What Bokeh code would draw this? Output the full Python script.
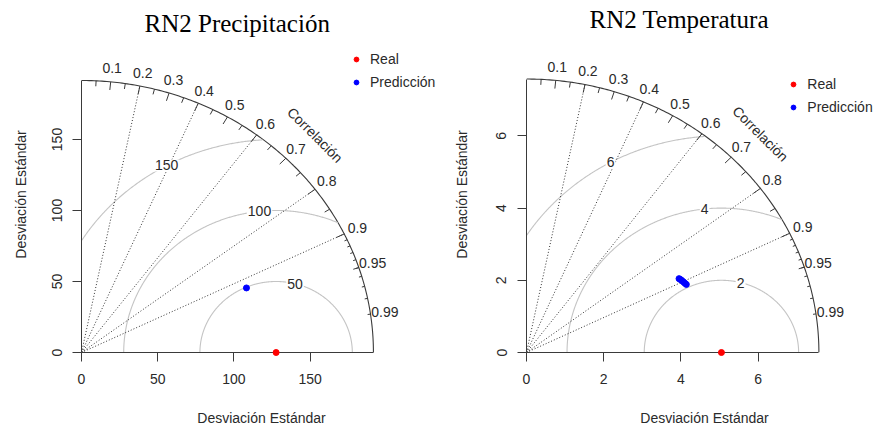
import numpy as np
from bokeh.plotting import figure
from bokeh.models import FixedTicker, Legend, LegendItem, Range1d
from bokeh.layouts import row
from bokeh.embed import file_html
from bokeh.resources import INLINE
from bokeh.core.properties import value

# ---------------- data ----------------
prec_title = "RN2 Precipitación"
prec_ref_sd = 127.7
prec_pred_sd = [117.4]
prec_pred_cor = [0.922]
prec_gamma = [50, 100, 150]
prec_ticks = [0, 50, 100, 150]

temp_title = "RN2 Temperatura"
temp_ref_sd = 5.05
temp_pred_sd = [4.45, 4.47, 4.49, 4.51, 4.53, 4.55]
temp_pred_cor = [0.888, 0.892, 0.896, 0.901, 0.906, 0.910]
temp_gamma = [2, 4, 6]
temp_ticks = [0, 2, 4, 6]

cor_labels = [0.1, 0.2, 0.3, 0.4, 0.5, 0.6, 0.7, 0.8, 0.9, 0.95, 0.99]
cor_lines = [0.2, 0.4, 0.6, 0.8, 0.9]
legend_labels = ["Real", "Predicción"]
axis_title = "Desviación Estándar"
cor_title = "Correlación"

SANS = "Liberation Sans"
DARK = "#3a3a3a"
TXT = "#2a2a2a"
GRAY = "#c4c4c4"


def taylor(title, ref_sd, sd, cor, gammas, ticks, lay):
    sd = np.asarray(sd, float)
    cor = np.asarray(cor, float)
    maxsd = 1.5 * max(ref_sd, sd.max())
    kx, ky = lay["px"]
    fl, fr, ft, fb = lay["frame"]
    W, H = lay["size"]
    p = figure(width=W, height=H, output_backend="svg", toolbar_location=None,
               x_range=Range1d(0, (fr - fl) / kx),
               y_range=Range1d(0, (fb - ft) / ky),
               min_border_left=fl, min_border_right=W - fr,
               min_border_top=ft, min_border_bottom=H - fb)
    p.outline_line_color = None
    p.grid.visible = False
    p.background_fill_color = "white"
    p.border_fill_color = "white"

    # axes
    for ax in (p.xaxis[0], p.yaxis[0]):
        ax.ticker = FixedTicker(ticks=ticks)
        ax.bounds = (0, maxsd)
        ax.axis_line_color = DARK
        ax.major_tick_line_color = DARK
        ax.major_tick_out = 9
        ax.major_tick_in = 0
        ax.minor_tick_line_color = None
        ax.major_label_text_font = SANS
        ax.major_label_text_font_size = "14px"
        ax.major_label_text_color = TXT
        ax.axis_label = axis_title
        ax.axis_label_text_font = SANS
        ax.axis_label_text_font_size = "14px"
        ax.axis_label_text_font_style = "normal"
        ax.axis_label_text_color = TXT
    p.xaxis.major_label_standoff = 12
    p.xaxis.axis_label_standoff = lay["xlab_standoff"]
    p.yaxis.major_label_orientation = "vertical"
    p.yaxis.major_label_standoff = 11
    p.yaxis.axis_label_standoff = lay["ylab_standoff"]

    # title
    p.title.text = title
    p.title.align = "left"
    p.title.offset = lay["title_offset"]
    p.title.standoff = lay["title_standoff"]
    p.title.text_font = "Liberation Serif"
    p.title.text_font_size = "25px"
    p.title.text_font_style = "normal"
    p.title.text_color = "black"

    # outer arc
    t = np.linspace(0, np.pi / 2, 181)
    p.line(maxsd * np.cos(t), maxsd * np.sin(t), line_color=DARK, line_width=1.1)

    # centred RMS arcs
    tt = np.linspace(0, np.pi, 600)
    for g in gammas:
        gx = ref_sd + g * np.cos(tt)
        gy = g * np.sin(tt)
        ok = (gx >= 0) & (gx ** 2 + gy ** 2 <= maxsd ** 2)
        gx = np.where(ok, gx, np.nan)
        gy = np.where(ok, gy, np.nan)
        p.line(gx, gy, line_color=GRAY, line_width=1.1)

    # correlation lines
    ca = np.arccos(np.array(cor_lines))
    p.segment(x0=0, y0=0, x1=maxsd * np.cos(ca), y1=maxsd * np.sin(ca),
              line_color="#333333", line_dash="1 2", line_width=1)

    # ticks on arc
    big = np.arccos(np.arange(1, 10) / 10)
    med = np.arccos(np.arange(0.05, 0.96, 0.1))
    sml = np.arccos(np.arange(91, 100) / 100)
    for ang, f in ((big, 0.97), (med, 0.98), (sml, 0.99)):
        p.segment(x0=maxsd * np.cos(ang), y0=maxsd * np.sin(ang),
                  x1=f * maxsd * np.cos(ang), y1=f * maxsd * np.sin(ang),
                  line_color=DARK, line_width=1)

    # correlation labels
    la = np.arccos(np.array(cor_labels))
    p.text(x=1.05 * maxsd * np.cos(la), y=1.05 * maxsd * np.sin(la),
           text=[f"{c:g}" for c in cor_labels],
           text_font=value(SANS), text_font_size="14px", text_color=TXT,
           text_align="center", text_baseline="middle")
    p.text(x=[0.8 * maxsd], y=[0.8 * maxsd], text=[cor_title], angle=-np.pi / 4,
           text_font=value(SANS), text_font_size="14px", text_color=TXT,
           text_align="center", text_baseline="middle")

    # RMS labels (plotrix positions: indices 45, 57, 70 on a 0.03 rad grid)
    gang = (np.array([45, 57, 70]) - 1) * 0.03
    gv = np.array(gammas, float)
    p.text(x=ref_sd + gv * np.cos(gang), y=gv * np.sin(gang),
           text=[f"{g:g}" for g in gammas],
           text_font=value(SANS), text_font_size="14px", text_color=TXT,
           text_align="center", text_baseline="middle",
           background_fill_color="white", padding=1)

    # points
    r_ref = p.scatter([ref_sd], [0], size=6, color="red", level="overlay")
    r_pred = p.scatter(sd * cor, sd * np.sqrt(1 - cor ** 2), size=6,
                       color="blue", level="overlay")

    leg = Legend(items=[LegendItem(label=legend_labels[0], renderers=[r_ref]),
                        LegendItem(label=legend_labels[1], renderers=[r_pred])],
                 location=lay["legend"])
    leg.margin = 0
    leg.padding = 0
    leg.spacing = 3
    leg.glyph_width = 12
    leg.glyph_height = 20
    leg.label_height = 20
    leg.label_standoff = 8
    leg.border_line_color = None
    leg.background_fill_alpha = 0
    leg.label_text_font = SANS
    leg.label_text_font_size = "14px"
    leg.label_text_color = TXT
    p.add_layout(leg)
    return p


lay_left = dict(size=(441, 432), px=(1.524, 1.42),
                frame=(81, 441, 36, 352), legend=(269, 259.7),
                title_offset=63, title_standoff=0,
                xlab_standoff=23, ylab_standoff=20)
lay_right = dict(size=(441, 432), px=(38.6, 36.1),
                 frame=(85, 441, 36, 352), legend=(261.3, 235),
                 title_offset=63, title_standoff=7,
                 xlab_standoff=23, ylab_standoff=24)

p1 = taylor(prec_title, prec_ref_sd, prec_pred_sd, prec_pred_cor, prec_gamma, prec_ticks, lay_left)
p2 = taylor(temp_title, temp_ref_sd, temp_pred_sd, temp_pred_cor, temp_gamma, temp_ticks, lay_right)

layout = row(p1, p2)
open("out.html", "w").write(file_html(layout, INLINE))
